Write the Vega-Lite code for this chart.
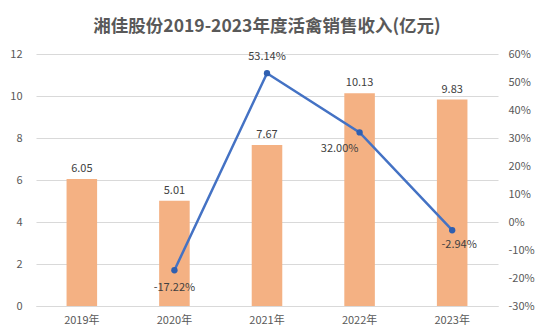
{
  "$schema": "https://vega.github.io/schema/vega-lite/v6.json",
  "autosize": "none",
  "width": 462,
  "height": 252,
  "padding": {"left": 36, "top": 54, "right": 41, "bottom": 30},
  "background": "white",
  "config": {
    "view": {"stroke": null},
    "font": "Noto Sans CJK SC",
    "locale": {"number": {"decimal": ".", "thousands": ",", "grouping": [3], "currency": ["$", ""], "minus": "-"}},
    "axis": {"labelColor": "#595959", "labelFontSize": 11, "labelFont": "Noto Sans CJK SC", "titleColor": "#595959"}
  },
  "title": {
    "text": "湘佳股份2019-2023年度活禽销售收入(亿元)",
    "fontSize": 17.5,
    "fontWeight": "bold",
    "color": "#595959",
    "font": "Noto Sans CJK SC",
    "anchor": "middle",
    "offset": 13
  },
  "data": {
    "values": [
      {"year": "2019年", "revenue": 6.05, "growth": null},
      {"year": "2020年", "revenue": 5.01, "growth": -0.1722},
      {"year": "2021年", "revenue": 7.67, "growth": 0.5314},
      {"year": "2022年", "revenue": 10.13, "growth": 0.32},
      {"year": "2023年", "revenue": 9.83, "growth": -0.0294}
    ]
  },
  "encoding": {
    "x": {
      "field": "year",
      "type": "nominal",
      "sort": null,
      "scale": {"paddingInner": 0.67, "paddingOuter": 0.33},
      "axis": {"title": null, "labelAngle": 0, "ticks": false, "domainColor": "#d9d9d9", "labelPadding": 8}
    }
  },
  "layer": [
    {
      "encoding": {
        "y": {
          "field": "revenue",
          "type": "quantitative",
          "scale": {"domain": [0, 12]},
          "axis": {"title": null, "values": [0, 2, 4, 6, 8, 10, 12], "domain": false, "ticks": false, "gridColor": "#d9d9d9", "labelPadding": 14}
        }
      },
      "layer": [
        {"mark": {"type": "bar", "color": "#F4B183"}},
        {
          "mark": {"type": "text", "dy": -10, "fontSize": 11, "color": "#404040"},
          "encoding": {"text": {"field": "revenue", "type": "quantitative", "format": ".2f"}}
        }
      ]
    },
    {
      "transform": [{"filter": "datum.growth != null"}],
      "encoding": {
        "y": {
          "field": "growth",
          "type": "quantitative",
          "scale": {"domain": [-0.3, 0.6]},
          "axis": {"title": null, "orient": "right", "format": ".0%", "values": [-0.3, -0.2, -0.1, 0, 0.1, 0.2, 0.3, 0.4, 0.5, 0.6], "labelOverlap": false, "grid": false, "domain": false, "ticks": false, "labelPadding": 10}
        }
      },
      "layer": [
        {"mark": {"type": "line", "color": "#4472C4", "strokeWidth": 2.5}},
        {"mark": {"type": "point", "filled": true, "color": "#2F5FB0", "size": 40, "opacity": 1}},
        {
          "transform": [{"filter": "datum.year == '2020年'"}],
          "mark": {"type": "text", "dy": 18, "fontSize": 11, "color": "#404040"},
          "encoding": {"text": {"field": "growth", "type": "quantitative", "format": ".2%"}}
        },
        {
          "transform": [{"filter": "datum.year == '2021年'"}],
          "mark": {"type": "text", "dy": -16, "fontSize": 11, "color": "#404040"},
          "encoding": {"text": {"field": "growth", "type": "quantitative", "format": ".2%"}}
        },
        {
          "transform": [{"filter": "datum.year == '2022年'"}],
          "mark": {"type": "text", "dy": 17, "dx": -20, "fontSize": 11, "color": "#404040"},
          "encoding": {"text": {"field": "growth", "type": "quantitative", "format": ".2%"}}
        },
        {
          "transform": [{"filter": "datum.year == '2023年'"}],
          "mark": {"type": "text", "dy": 15, "dx": 7, "fontSize": 11, "color": "#404040"},
          "encoding": {"text": {"field": "growth", "type": "quantitative", "format": ".2%"}}
        }
      ]
    }
  ],
  "resolve": {"scale": {"y": "independent"}}
}
